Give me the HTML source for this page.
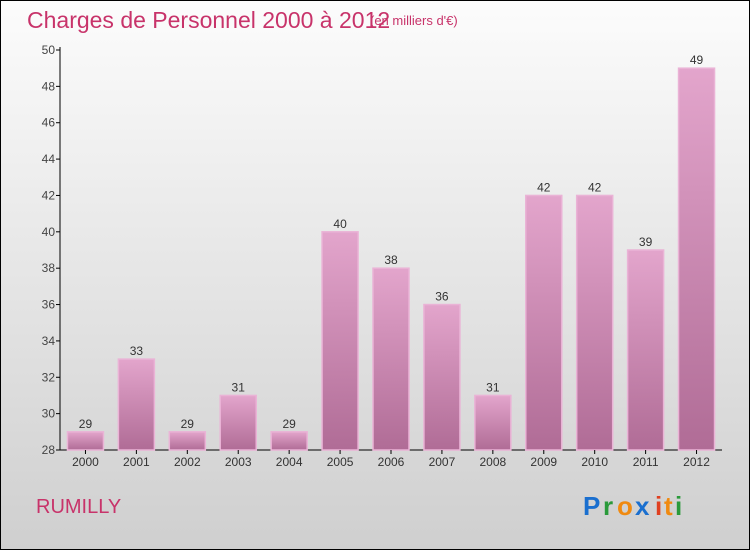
<!DOCTYPE html>
<html><head><meta charset="utf-8"><style>
body{margin:0;width:750px;height:550px;overflow:hidden;font-family:"Liberation Sans",sans-serif}
</style></head><body>
<svg id="c" width="750" height="550" xmlns="http://www.w3.org/2000/svg">
<defs>
<linearGradient id="bg" x1="0" y1="0" x2="0" y2="1"><stop offset="0" stop-color="#fcfcfc"/><stop offset="1" stop-color="#cfcfcf"/></linearGradient>
<linearGradient id="bar" x1="0" y1="0" x2="0" y2="1"><stop offset="0" stop-color="#e3a5cc"/><stop offset="1" stop-color="#b06c96"/></linearGradient>
</defs>
<rect x="0.5" y="0.5" width="749" height="549" fill="url(#bg)" stroke="#000"/>
<text x="27" y="28" font-size="23" fill="#c8336a">Charges de Personnel 2000 à 2012</text>
<text x="370" y="25" font-size="13" fill="#c8336a">(en milliers d'€)</text>
<text x="36" y="513" font-size="20" fill="#c8336a">RUMILLY</text>
<g font-size="26" font-weight="bold">
<text x="583" y="515" fill="#1a6fcf">P</text><text x="603" y="515" fill="#2a9a3a">r</text><text x="617" y="515" fill="#f08a10">o</text><text x="635" y="515" fill="#1a6fcf">x</text><text x="655" y="515" fill="#e04020">i</text><text x="664" y="515" fill="#f08a10">t</text><text x="675" y="515" fill="#2a9a3a">i</text>
</g>
<g id="plot"></g>
</svg>
<script>
const categories=["2000","2001","2002","2003","2004","2005","2006","2007","2008","2009","2010","2011","2012"];
const values=[29,33,29,31,29,40,38,36,31,42,42,39,49];
const yTicks=[28,30,32,34,36,38,40,42,44,46,48,50];
const NS="http://www.w3.org/2000/svg";
const g=document.getElementById("plot");
const x0=60,x1=722,yTop=50,yBot=450,vMin=28,vMax=50;
const step=(x1-x0)/categories.length;
const y=v=>yBot-(v-vMin)/(vMax-vMin)*(yBot-yTop);
const xc=i=>x0+step*(i+0.5);
function mk(t,a){const e=document.createElementNS(NS,t);for(const k in a)e.setAttribute(k,a[k]);g.appendChild(e);return e;}
let e=mk("line",{x1:x0,y1:yTop-3,x2:x0,y2:yBot,stroke:"#000"});


e=mk("line",{x1:x0,y1:yBot,x2:x1,y2:yBot,stroke:"#000"});


yTicks.forEach(t=>{
 const tk=mk("line",{x1:x0-4,y1:y(t),x2:x0,y2:y(t),stroke:"#000"});
 
 
 const l=mk("text",{x:x0-5,y:y(t)+4,"font-size":12,fill:"#444","text-anchor":"end"});
 l.textContent=t;
 
 
});
categories.forEach((c,i)=>{
 const bw=36,v=values[i];
 const r=mk("rect",{x:xc(i)-bw/2,y:y(v),width:bw,height:yBot-y(v),fill:"url(#bar)",stroke:"#eab3d6","stroke-width":1.5});
 
 
 const vl=mk("text",{x:xc(i),y:y(v)-4,"font-size":12,fill:"#333","text-anchor":"middle"});
 vl.textContent=v;
 
 
 const tk=mk("line",{x1:xc(i),y1:yBot,x2:xc(i),y2:yBot+4,stroke:"#000"});
 
 
 const xl=mk("text",{x:xc(i),y:yBot+16,"font-size":12,fill:"#333","text-anchor":"middle"});
 xl.textContent=c;
 
 
});
</script>
</body></html>
